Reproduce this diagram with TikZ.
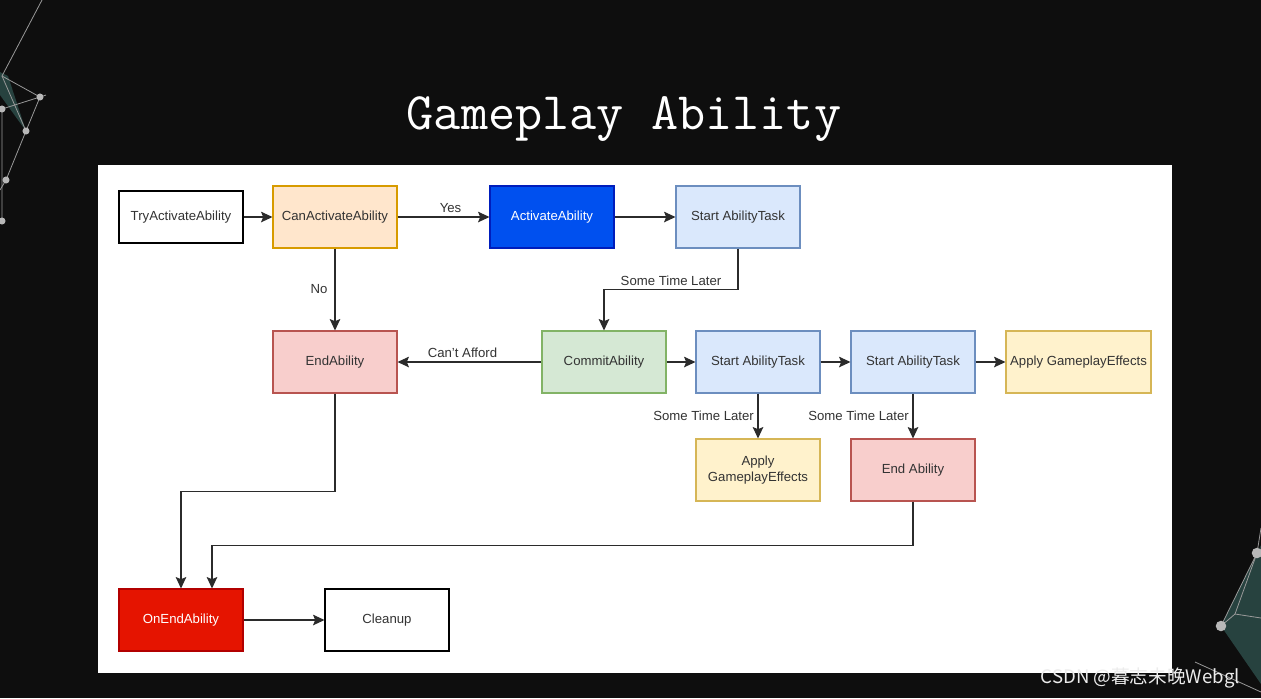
\documentclass[tikz,border=0pt]{standalone}
\usepackage{fontspec}
\setmainfont{Liberation Sans}
\newfontfamily\cjkfont{Noto Sans CJK SC}
\usetikzlibrary{arrows.meta,positioning,calc}

\definecolor{bgdark}{HTML}{0E0E0E}
\definecolor{textgray}{HTML}{333333}
\definecolor{linegray}{HTML}{2B2B2B}
\definecolor{orangefill}{HTML}{FFE6CC}
\definecolor{orangeline}{HTML}{D79B00}
\definecolor{bluefill}{HTML}{0050EF}
\definecolor{blueline}{HTML}{001DBC}
\definecolor{lightbluefill}{HTML}{DAE8FC}
\definecolor{lightblueline}{HTML}{6C8EBF}
\definecolor{redfill}{HTML}{F8CECC}
\definecolor{redline}{HTML}{B85450}
\definecolor{greenfill}{HTML}{D5E8D4}
\definecolor{greenline}{HTML}{82B366}
\definecolor{yellowfill}{HTML}{FFF2CC}
\definecolor{yellowline}{HTML}{D6B656}
\definecolor{strongred}{HTML}{E51400}
\definecolor{strongredline}{HTML}{B20000}
\definecolor{netline}{HTML}{9A9A9A}
\definecolor{netfill}{HTML}{2E4F4C}

\begin{document}
\begin{tikzpicture}[
    x=0.02cm, y=-0.02cm,
    font=\fontsize{7.5}{9}\selectfont,
    >={Stealth[length=6.5pt,width=6pt,inset=1.2pt]},
    arrow/.style={->, line width=0.7pt, draw=linegray},
    lbl/.style={text=textgray, inner sep=2pt},
    flowbox/.style={draw, line width=0.6pt, align=center, text=textgray,
        minimum width=2.48cm, minimum height=1.24cm, inner sep=2pt},
    plainbox/.style={flowbox, fill=white, draw=black},
    askbox/.style={flowbox, fill=orangefill, draw=orangeline},
    activebox/.style={flowbox, fill=bluefill, draw=blueline, text=white},
    taskbox/.style={flowbox, fill=lightbluefill, draw=lightblueline},
    endbox/.style={flowbox, fill=redfill, draw=redline},
    commitbox/.style={flowbox, fill=greenfill, draw=greenline},
    effectbox/.style={flowbox, fill=yellowfill, draw=yellowline},
    finalbox/.style={flowbox, fill=strongred, draw=strongredline, text=white},
    net/.style={draw=netline, line width=0.45pt},
    netdot/.style={circle, fill=netline!70!white, inner sep=0pt, minimum size=4pt}
]

\useasboundingbox (0,0) rectangle (1261,698);

% Background and panel
\fill[bgdark] (0,0) rectangle (1261,698);

\fill[netfill, opacity=0.8] (0,72) -- (8,76) -- (26,131) -- (0,95) -- cycle;
\draw[net] (42,0) -- (2,76) -- (40,97) -- (2,109) -- (2,221);
\draw[net] (40,97) -- (26,131) -- (6,180) -- (0,190);
\draw[net] (2,76) -- (26,131);
\draw[net] (40,97) -- (46,95);
\node[netdot] (leftdotA) at (40,97) {};
\node[netdot] (leftdotB) at (2,109) {};
\node[netdot] (leftdotC) at (26,131) {};
\node[netdot] (leftdotD) at (6,180) {};
\node[netdot] (leftdotE) at (2,221) {};

\fill[netfill, opacity=0.8] (1257,553) -- (1221,626) -- (1261,684) -- (1261,545) -- cycle;
\draw[net] (1261,528) -- (1257,553) -- (1221,626) -- (1235,614) -- (1261,618);
\draw[net] (1235,614) -- (1257,553);
\draw[net] (1195,662) -- (1261,692);
\node[netdot, minimum size=6pt] (rightdotA) at (1257,553) {};
\node[netdot, minimum size=6pt] (rightdotB) at (1221,626) {};

\fill[white] (98,165) rectangle (1172,673);

% Title
\node[text=white, font=\ttfamily\fontsize{30}{36}\selectfont] (title) at (624,119) {Gameplay Ability};

% First row
\node[plainbox, minimum height=1.04cm] (tryactivate) at (181,217) {TryActivateAbility};
\node[askbox] (canactivate) at (335,217) {CanActivateAbility};
\node[activebox] (activate) at (552,217) {ActivateAbility};
\node[taskbox] (taskA) at (738,217) {Start AbilityTask};

% Second row
\node[endbox] (endability) at (335,362) {EndAbility};
\node[commitbox] (commit) at (604,362) {CommitAbility};
\node[taskbox] (taskB) at (758,362) {Start AbilityTask};
\node[taskbox] (taskC) at (913,362) {Start AbilityTask};
\node[effectbox, minimum width=2.9cm] (effectsA) at (1078.5,362) {Apply GameplayEffects};

% Third row
\node[effectbox] (effectsB) at (758,470) {Apply\\GameplayEffects};
\node[endbox] (endabilityB) at (913,470) {End Ability};

% Last row
\node[finalbox] (onend) at (181,620) {OnEndAbility};
\node[plainbox] (cleanup) at (387,620) {Cleanup};

% Arrows
\draw[arrow] (tryactivate.east) -- (canactivate.west);
\draw[arrow] (canactivate.east) -- node[lbl, above, xshift=4pt] {Yes} (activate.west);
\draw[arrow] (activate.east) -- (taskA.west);
\draw[arrow] (taskA.south) -- ++(0,41) -| node[lbl, pos=0.25, above] {Some Time Later} (commit.north);

\draw[arrow] (canactivate.south) -- node[lbl, left, xshift=-2pt] {No} (endability.north);
\draw[arrow] (commit.west) -- node[lbl, above, xshift=-4pt] {Can't Afford} (endability.east);

\draw[arrow] (commit.east) -- (taskB.west);
\draw[arrow] (taskB.east) -- (taskC.west);
\draw[arrow] (taskC.east) -- (effectsA.west);
\draw[arrow] (taskB.south) -- node[lbl, left] {Some Time Later} (effectsB.north);
\draw[arrow] (taskC.south) -- node[lbl, left] {Some Time Later} (endabilityB.north);

\draw[arrow] (endability.south) -- ++(0,98) -| (onend.north);
\draw[arrow] (endabilityB.south) -- ++(0,44) -| ($(onend.north)+(31,0)$);
\draw[arrow] (onend.east) -- (cleanup.west);

% Watermark
\node[anchor=east, text=white!85!gray, font=\cjkfont\fontsize{10.6}{12}\selectfont] (watermark) at (1246,678) {CSDN @暮志未晚Webgl};

\end{tikzpicture}
\end{document}
